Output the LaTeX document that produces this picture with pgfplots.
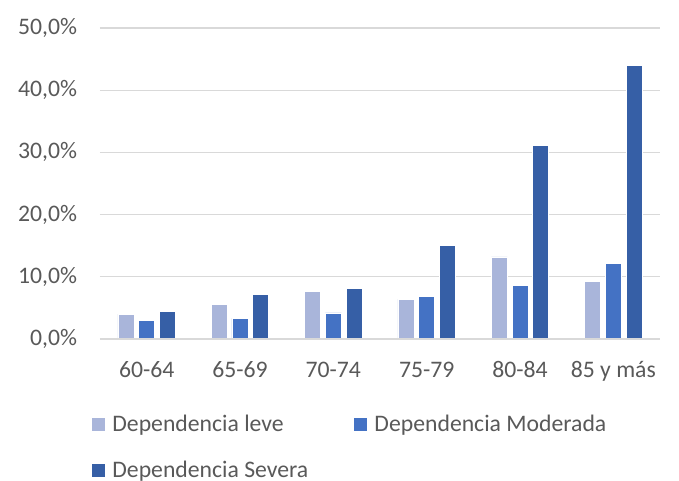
\documentclass[border=0pt]{standalone}
\usepackage{pgfplots}
\pgfplotsset{compat=1.18}
\usepackage{fontspec}
\setmainfont{Carlito}

\definecolor{txtgray}{HTML}{595959}
\definecolor{gridgray}{HTML}{D9D9D9}
\definecolor{leve}{HTML}{A9B5DA}
\definecolor{moderada}{HTML}{4472C4}
\definecolor{severa}{HTML}{365FA6}

\newcommand{\chartfont}{\fontsize{23.7bp}{28bp}\selectfont}

\begin{document}
\chartfont
\begin{tikzpicture}
% page frame around the plot area (origin = lower left corner of the axis)
\path (-100bp,-138bp) rectangle (579bp,339bp);
\begin{axis}[
  at={(0,0)}, anchor=south west,
  scale only axis, width=560bp, height=311bp,
  ybar=4.7bp, bar width=16bp,
  xmin=-0.5, xmax=5.5, ymin=0, ymax=50,
  xtick={0,...,5},
  xticklabels={60-64,65-69,70-74,75-79,80-84,85 y más},
  ytick={0,10,...,50},
  yticklabel={\pgfmathprintnumber[fixed,fixed zerofill,precision=1,use comma]{\tick}\%},
  /pgf/number format/assume math mode=true,
  ymajorgrids, major grid style={gridgray, line width=1.2bp},
  axis line style={draw=none},
  axis x line*=bottom, axis y line*=left,
  major tick length=0pt,
  tick label style={font=\chartfont, text=txtgray},
  xticklabel style={anchor=north, inner ysep=0pt, text height=15.3bp, text depth=4bp, yshift=-23.3bp},
  yticklabel style={anchor=east, inner xsep=0pt, xshift=-22.7bp},
  legend style={draw=none, fill=none, inner sep=0pt, at={(-9bp,-75.4bp)}, anchor=north west,
    font=\chartfont, text=txtgray,
    legend columns=2, row sep=26bp, cells={anchor=west},
    nodes={inner sep=0pt},
    /tikz/every odd column/.append style={column sep=6.7bp},
    /tikz/every even column/.append style={column sep=45bp}},
  legend image code/.code={\fill[#1] (0bp,-7bp) rectangle (14bp,7bp);},
]
\addplot[fill=leve, draw=white, line width=0.5bp] coordinates {(0,4.0) (1,5.6) (2,7.6) (3,6.4) (4,13.2) (5,9.3)};
\addplot[fill=moderada, draw=white, line width=0.5bp] coordinates {(0,3.05) (1,3.3) (2,4.2) (3,6.9) (4,8.6) (5,12.2)};
\addplot[fill=severa, draw=white, line width=0.5bp] coordinates {(0,4.45) (1,7.2) (2,8.15) (3,15.1) (4,31.1) (5,44.0)};
\draw[gridgray, line width=1.2bp] (axis cs:-0.5,0) -- (axis cs:5.5,0);
\legend{Dependencia leve, Dependencia Moderada, Dependencia Severa}
\end{axis}
\end{tikzpicture}
\end{document}
